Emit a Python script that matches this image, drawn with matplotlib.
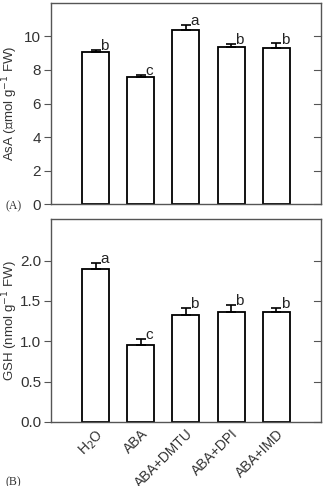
import numpy as np
import matplotlib
matplotlib.use("Agg")
from matplotlib import pyplot as plt

plt.rcParams['font.family'] = ['Liberation Sans', 'DejaVu Sans']

# Data
treatments = ["H$_2$O", "ABA", "ABA+DMTU", "ABA+DPI", "ABA+IMD"]
asa_mean = [9.1, 7.6, 10.4, 9.4, 9.3]
asa_err = [0.12, 0.08, 0.30, 0.15, 0.28]
asa_letters = ["b", "c", "a", "b", "b"]
gsh_mean = [1.89, 0.95, 1.33, 1.36, 1.36]
gsh_err = [0.08, 0.08, 0.08, 0.09, 0.05]
gsh_letters = ["a", "c", "b", "b", "b"]

x = np.arange(1, len(treatments) + 1)

fig = plt.figure(figsize=(3.26, 4.86), dpi=100)
ax1 = fig.add_axes([0.156, 0.580, 0.829, 0.414])
ax2 = fig.add_axes([0.156, 0.132, 0.829, 0.418])


def draw_panel(ax, mean, err, letters, ymax, yticks, ylabel, fmt):
    ax.bar(x, mean, width=0.6, color="white", edgecolor="black", linewidth=1.3, zorder=2)
    ax.errorbar(x, mean, yerr=[np.zeros(len(err)), err], fmt="none", ecolor="black",
                elinewidth=1.2, capsize=3.5, capthick=1.2, zorder=3)
    for xi, m, e, t in zip(x, mean, err, letters):
        ax.text(xi + 0.1, m + e - ymax * 0.015, t, ha="left", va="bottom", fontsize=11,
                color="#222222")
    ax.set_xlim(0, 6)
    ax.set_ylim(0, ymax)
    ax.set_yticks(yticks)
    ax.set_yticklabels([fmt.format(v) for v in yticks], fontsize=11, color="#333333")
    ax.set_ylabel(ylabel, fontsize=9.5, color="#333333", va="center")
    ax.yaxis.set_label_coords(-0.152, 0.5)
    ax.tick_params(axis="y", which="both", direction="out", length=5, width=0.8,
                   color="#555555", right=False, pad=2)
    ax.tick_params(axis="x", length=0)
    for s in ax.spines.values():
        s.set_color("#555555")
        s.set_linewidth(1.0)
    # inward ticks on the right side
    for v in yticks:
        ax.plot([5.85, 6.0], [v, v], color="#555555", lw=0.8, clip_on=False, zorder=1)


draw_panel(ax1, asa_mean, asa_err, asa_letters, 12, [0, 2, 4, 6, 8, 10],
           "AsA (\u221dmol g$^{-1}$ FW)", "{:.0f}")
ax1.set_xticks([])

draw_panel(ax2, gsh_mean, gsh_err, gsh_letters, 2.52, [0.0, 0.5, 1.0, 1.5, 2.0],
           "GSH (nmol g$^{-1}$ FW)", "{:.1f}")
ax2.set_xticks(x)
ax2.set_xticklabels(treatments, rotation=45, ha="right", rotation_mode="anchor",
                    fontsize=10, color="#333333")

fig.text(5 / 326, 1 - 206 / 486, "(A)", family="Liberation Serif", fontsize=8.5, color="#333333",
         va="center")
fig.text(5 / 326, 1 - 482 / 486, "(B)", family="Liberation Serif", fontsize=8.5, color="#333333",
         va="center")

fig.savefig("out.png", dpi=100)
